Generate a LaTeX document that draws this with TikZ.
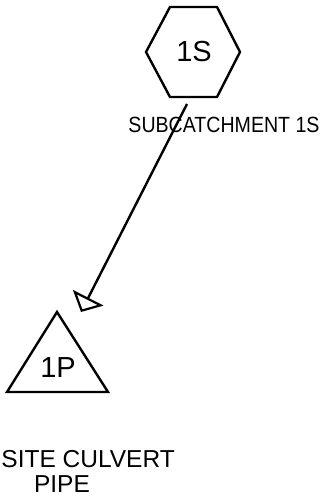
\documentclass[tikz,border=0pt]{standalone}
\usepackage{fontspec}
\setmainfont{Liberation Sans}
\usetikzlibrary{arrows.meta}
\begin{document}
\begin{tikzpicture}[x=1pt,y=-1pt,
  shapeline/.style={line width=2.4pt, line join=miter},
  bigtext/.style={font=\fontsize{29}{31}\selectfont, inner sep=0pt},
  lbltext/.style={font=\fontsize{22}{24}\selectfont, inner sep=0pt, xscale=0.89},
  lbltextb/.style={font=\fontsize{24.5}{26}\selectfont, inner sep=0pt},
  flow/.style={line width=2.4pt, -{Triangle[open,length=16pt,width=34pt,line width=2.2pt]}}]
\useasboundingbox (0,0) rectangle (327,497);
% hexagon 1S
\draw[shapeline] (146,52) -- (170,7) -- (217,7) -- (240,52) -- (217,97) -- (170,97) -- cycle;
\node[bigtext] (n1s) at (194,52) {1S};
\node[lbltext] (l1s) at (224,125) {SUBCATCHMENT 1S};
% triangle 1P
\draw[shapeline] (57,312) -- (108,392) -- (7,392) -- cycle;
\node[bigtext] (n1p) at (58,368) {1P};
\node[lbltextb, anchor=east] (l1p) at (175,459) {SITE CULVERT};
\node[lbltextb] (l1pb) at (62,484) {PIPE};
% connector
\coordinate (src) at (187,104);
\coordinate (dst) at (81,312);
\draw[flow] (src) -- (dst);
\end{tikzpicture}
\end{document}
